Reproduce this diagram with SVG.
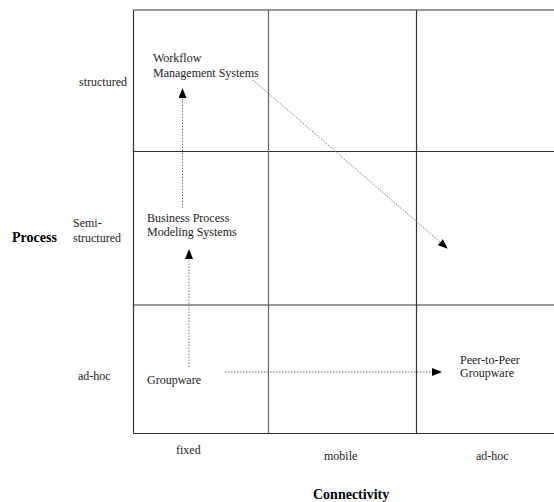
<svg xmlns="http://www.w3.org/2000/svg" width="554" height="502" viewBox="0 0 554 502">
<defs>
<style>
.t{font-family:"Liberation Serif","Times New Roman",serif;font-size:12px;fill:#222}
.b{font-family:"Liberation Serif","Times New Roman",serif;font-size:14px;font-weight:bold;fill:#000}
.g{stroke:#333;stroke-width:1.2;fill:none}
.g2{stroke:#666;stroke-width:1.2;fill:none}
.c{stroke:#777;stroke-width:1;stroke-dasharray:1.5,1.5;fill:none}
</style>
<marker id="ah" markerWidth="10" markerHeight="8" refX="9" refY="4" orient="auto" markerUnits="userSpaceOnUse">
<path d="M0,0 L10,4 L0,8 Z" fill="#000"/>
</marker>
</defs>
<rect width="554" height="502" fill="#fff"/>
<g id="grid">
<line class="g" x1="133.5" y1="10" x2="554" y2="10"/>
<line class="g" x1="133.5" y1="151.5" x2="554" y2="151.5"/>
<line class="g" x1="133.5" y1="305" x2="554" y2="305"/>
<line class="g" x1="133.5" y1="433.5" x2="554" y2="433.5"/>
<line class="g" x1="133.5" y1="10" x2="133.5" y2="433.5"/>
<line class="g2" x1="268.5" y1="10" x2="268.5" y2="433.5"/>
<line class="g" x1="416.5" y1="10" x2="416.5" y2="433.5"/>
</g>
<g id="axis-labels">
<text class="t" x="79" y="86">structured</text>
<text class="t" x="73" y="227">Semi-</text>
<text class="t" x="73" y="242">structured</text>
<text class="t" x="78" y="380">ad-hoc</text>
<text class="b" x="12" y="242">Process</text>
<text class="t" x="176" y="454">fixed</text>
<text class="t" x="324" y="460">mobile</text>
<text class="t" x="476" y="460">ad-hoc</text>
<text class="b" x="313" y="499">Connectivity</text>
</g>
<g id="node-wfms">
<text class="t" x="153" y="62">Workflow</text>
<text class="t" x="153" y="77">Management Systems</text>
</g>
<g id="node-bpms">
<text class="t" x="147" y="222">Business Process</text>
<text class="t" x="147" y="236">Modeling Systems</text>
</g>
<g id="node-groupware">
<text class="t" x="147" y="384">Groupware</text>
</g>
<g id="node-p2p">
<text class="t" x="460" y="364">Peer-to-Peer</text>
<text class="t" x="460" y="377">Groupware</text>
</g>
<g id="connectors">
<line class="c" x1="182.5" y1="208" x2="182.5" y2="89" marker-end="url(#ah)"/>
<line class="c" x1="189" y1="367" x2="189" y2="250" marker-end="url(#ah)"/>
<line class="c" x1="225" y1="372" x2="441" y2="372" marker-end="url(#ah)"/>
<line class="c" x1="253" y1="80" x2="447" y2="248" marker-end="url(#ah)"/>
</g>
</svg>
